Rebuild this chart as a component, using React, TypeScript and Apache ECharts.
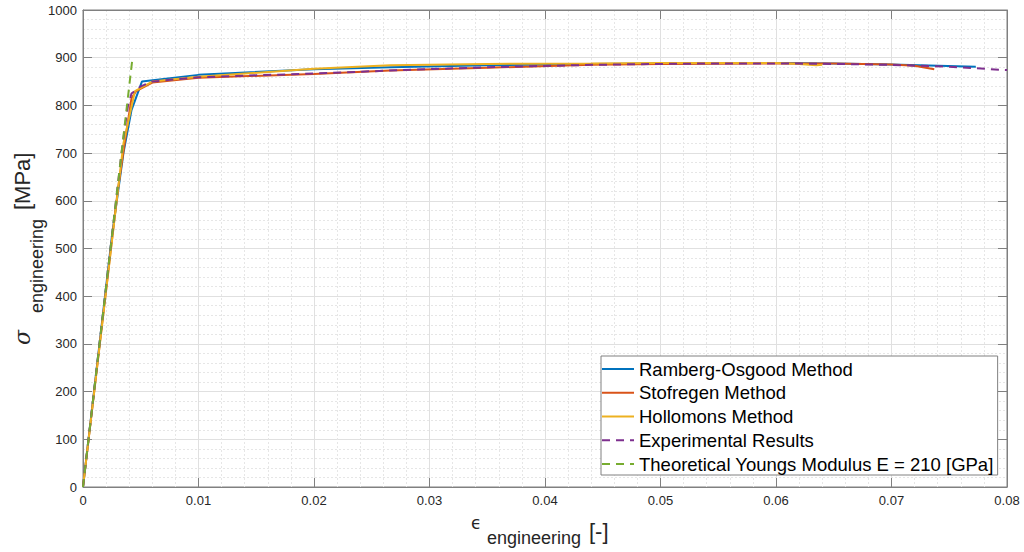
import React, { useEffect, useRef } from "react";
import * as echarts from "echarts";

// Strain [-] and stress [MPa]
const rambergX = [0, 0.0025, 0.0035, 0.0042, 0.0051, 0.01, 0.02, 0.0266, 0.035, 0.044, 0.05, 0.06, 0.065, 0.07, 0.0773];
const rambergY = [0, 525, 700, 790, 850, 864, 876, 880, 884, 887, 888, 889, 888, 886, 881];

const stofregenX = [0, 0.003, 0.0036, 0.0042, 0.0046, 0.006, 0.01, 0.02, 0.0266, 0.035, 0.044, 0.05, 0.06, 0.065, 0.07, 0.072, 0.0737];
const stofregenY = [0, 620, 720, 815, 830, 848, 858, 866, 873, 879, 885, 887, 888, 888, 886, 883, 876];

const hollomonX = [0, 0.0035, 0.0045, 0.006, 0.01, 0.02, 0.0266, 0.035, 0.044, 0.05, 0.06, 0.062, 0.0635, 0.064];
const hollomonY = [0, 720, 830, 850, 860, 877, 884, 887, 888, 889, 889, 887, 884, 885];

const experimentX = [0, 0.0033, 0.0036, 0.0039, 0.0042, 0.005, 0.006, 0.01, 0.015, 0.02, 0.0266, 0.03, 0.035, 0.044, 0.05, 0.055, 0.06, 0.065, 0.07, 0.075, 0.08];
const experimentY = [0, 693, 750, 800, 825, 840, 850, 859, 863, 867, 873, 876, 880, 885, 887, 888, 888, 887, 885, 881, 874];

const youngX = [0, 0.00425];
const youngY = [0, 892.5];

const seriesNames = [
  "Ramberg-Osgood Method",
  "Stofregen Method",
  "Hollomons Method",
  "Experimental Results",
  "Theoretical Youngs Modulus E = 210 [GPa]",
];

const zip = (xs: number[], ys: number[]) => xs.map((x, i) => [x, ys[i]]);

export default function App() {
  const ref = useRef<HTMLDivElement>(null);
  useEffect(() => {
    document.body.style.margin = "0";
    const chart = echarts.init(ref.current!, undefined, { renderer: "svg" });
    const font = "'Liberation Sans', Arial, sans-serif";
    const axisColor = "#808080";
    const textColor = "#262626";
    const xFmt = (v: number) => (v === 0 ? "0" : String(+v.toFixed(2)));
    const yFmt = (v: number) => String(Math.round(v));
    const line = (name: string, xs: number[], ys: number[], color: string, dashed: boolean) => ({
      name,
      type: "line",
      data: zip(xs, ys),
      showSymbol: false,
      symbol: "none",
      lineStyle: { color, width: 2, type: dashed ? [8, 6] : "solid" },
      itemStyle: { color },
      z: 3,
    });
    chart.setOption({
      animation: false,
      grid: { left: 83, right: 17, top: 10, bottom: 65, show: true, borderColor: axisColor, borderWidth: 1 },
      xAxis: [
        {
          type: "value",
          min: 0,
          max: 0.08,
          interval: 0.01,
          axisLine: { show: true, onZero: false, lineStyle: { color: axisColor } },
          axisTick: { show: true, inside: true, length: 9, lineStyle: { color: axisColor } },
          axisLabel: { color: textColor, fontFamily: font, fontSize: 13, margin: 7, formatter: xFmt },
          splitLine: { show: true, lineStyle: { color: "#e0e0e0", width: 1 } },
          minorTick: { show: false, splitNumber: 5 },
          minorSplitLine: { show: true, lineStyle: { color: "#e6e6e6", type: [2, 2] } },
        },
        {
          type: "value",
          position: "top",
          min: 0,
          max: 0.08,
          interval: 0.01,
          axisLine: { show: true, onZero: false, lineStyle: { color: axisColor } },
          axisTick: { show: true, inside: true, length: 9, lineStyle: { color: axisColor } },
          axisLabel: { show: false },
          splitLine: { show: false },
        },
      ],
      yAxis: [
        {
          type: "value",
          min: 0,
          max: 1000,
          interval: 100,
          axisLine: { show: true, onZero: false, lineStyle: { color: axisColor } },
          axisTick: { show: true, inside: true, length: 9, lineStyle: { color: axisColor } },
          axisLabel: { color: textColor, fontFamily: font, fontSize: 13, margin: 6, formatter: yFmt },
          splitLine: { show: true, lineStyle: { color: "#e0e0e0", width: 1 } },
          minorTick: { show: false, splitNumber: 5 },
          minorSplitLine: { show: true, lineStyle: { color: "#e6e6e6", type: [2, 2] } },
        },
        {
          type: "value",
          position: "right",
          min: 0,
          max: 1000,
          interval: 100,
          axisLine: { show: true, onZero: false, lineStyle: { color: axisColor } },
          axisTick: { show: true, inside: true, length: 9, lineStyle: { color: axisColor } },
          axisLabel: { show: false },
          splitLine: { show: false },
        },
      ],
      legend: {
        orient: "vertical",
        left: 601,
        top: 356,
        padding: [3, 4, 1, 0],
        itemWidth: 32,
        itemHeight: 14,
        itemGap: 3.75,
        itemStyle: { opacity: 0, borderWidth: 0 },
        backgroundColor: "#ffffff",
        borderColor: axisColor,
        borderWidth: 1,
        borderRadius: 0,
        textStyle: { color: "#000000", fontFamily: font, fontSize: 18.5, lineHeight: 20 },
        data: seriesNames,
      },
      series: [
        line(seriesNames[0], rambergX, rambergY, "#0072BD", false),
        line(seriesNames[1], stofregenX, stofregenY, "#D95319", false),
        line(seriesNames[2], hollomonX, hollomonY, "#EDB120", false),
        line(seriesNames[3], experimentX, experimentY, "#7E2F8E", true),
        line(seriesNames[4], youngX, youngY, "#77AC30", true),
      ],
      graphic: [
        {
          type: "group",
          x: 0,
          y: 0,
          children: [
            { type: "text", x: 471, y: 523, style: { text: "ϵ", font: "17px 'DejaVu Sans'", fill: textColor, verticalAlign: "middle", align: "left" } },
            { type: "text", x: 487, y: 538, style: { text: "engineering", font: `18px ${font}`, fill: textColor, verticalAlign: "middle", align: "left" } },
            { type: "text", x: 589, y: 531, style: { text: "[-]", font: `22px ${font}`, fill: textColor, verticalAlign: "middle", align: "left" } },
          ],
        },
        {
          type: "group",
          x: 22,
          y: 338,
          rotation: Math.PI / 2,
          children: [
            { type: "text", x: -7, y: 0, style: { text: "σ", font: "italic 22px 'DejaVu Serif'", fill: textColor, verticalAlign: "middle", align: "left" } },
            { type: "text", x: 25, y: 15, style: { text: "engineering", font: `18px ${font}`, fill: textColor, verticalAlign: "middle", align: "left" } },
            { type: "text", x: 128, y: 0, style: { text: "[MPa]", font: `22px ${font}`, fill: textColor, verticalAlign: "middle", align: "left" } },
          ],
        },
      ],
    });
    return () => chart.dispose();
  }, []);
  return <div ref={ref} style={{ width: 1024, height: 552 }} />;
}
